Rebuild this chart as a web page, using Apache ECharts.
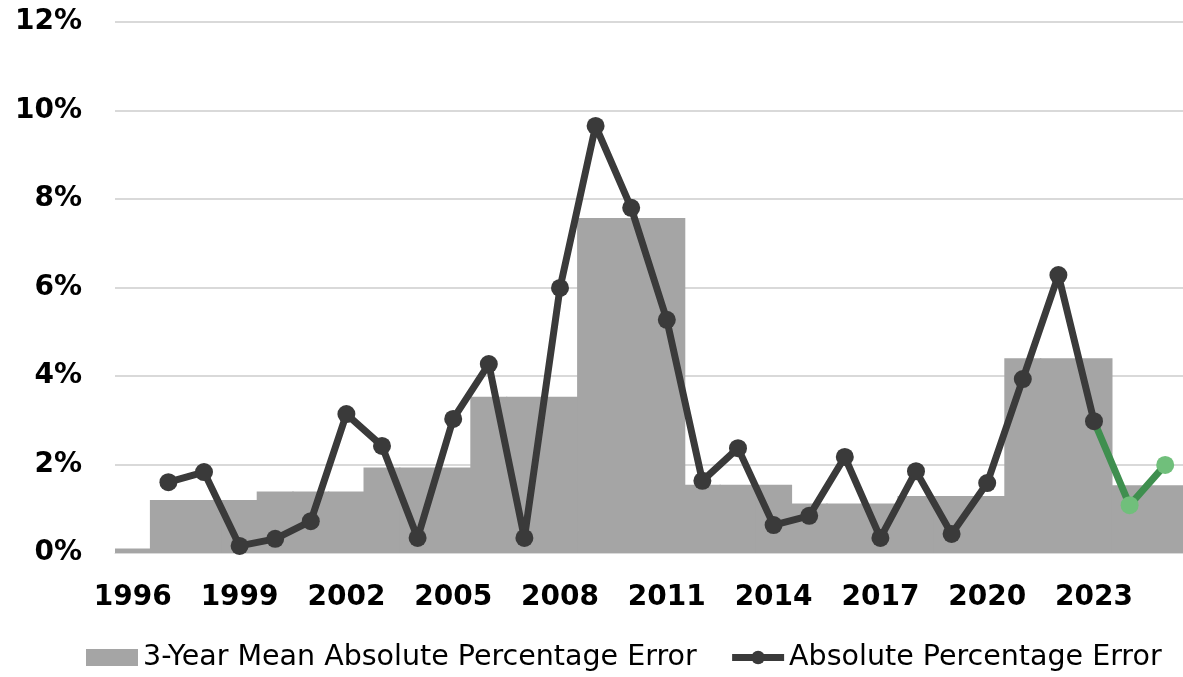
<!DOCTYPE html>
<html>
<head>
<meta charset="utf-8">
<script src="https://cdn.jsdelivr.net/npm/echarts@6/dist/echarts.min.js"></script>
<style>
  html, body { margin: 0; padding: 0; background: #ffffff; }
  #chart { width: 1183px; height: 677px; }
</style>
</head>
<body>
<div id="chart"></div>
<script>
// Forecast years
const years = ['1996','1997','1998','1999','2000','2001','2002','2003','2004','2005',
  '2006','2007','2008','2009','2010','2011','2012','2013','2014','2015',
  '2016','2017','2018','2019','2020','2021','2022','2023','2024','2025'];

// 3-year mean absolute percentage error (%), one value per year
const meanError = [0.10, 1.20, 1.20, 1.20, 1.39, 1.39, 1.39, 1.93, 1.93, 1.93,
  3.53, 3.53, 3.53, 7.57, 7.57, 7.57, 1.54, 1.54, 1.54, 1.12,
  1.12, 1.12, 1.29, 1.29, 1.29, 4.40, 4.40, 4.40, 1.53, 1.53];

// Absolute percentage error (%) through 2023
const absError = [null, 1.60, 1.83, 0.16, 0.32, 0.72, 3.14, 2.42, 0.34, 3.03,
  4.27, 0.34, 5.99, 9.65, 7.80, 5.27, 1.63, 2.37, 0.63, 0.84,
  2.17, 0.34, 1.85, 0.43, 1.58, 3.93, 6.28, 2.98, null, null];

// Latest years, continuing from 2023
const recentError = [null, null, null, null, null, null, null, null, null, null,
  null, null, null, null, null, null, null, null, null, null,
  null, null, null, null, null, null, null, 2.98, 1.08, 1.99];

const yTicks = [0, 2, 4, 6, 8, 10, 12];

const chart = echarts.init(document.getElementById('chart'), null, { renderer: 'canvas' });

const axisFont = { fontFamily: 'DejaVu Sans', fontWeight: 'bold', fontSize: 28, color: '#000000' };

chart.setOption({
  animation: false,
  backgroundColor: '#ffffff',
  grid: { left: 115, right: 0, top: 22, bottom: 124, containLabel: false },
  legend: {
    bottom: 0,
    left: 81,
    itemGap: 32,
    itemWidth: 52,
    itemHeight: 17,
    lineStyle: { width: 7 },
    textStyle: { fontFamily: 'DejaVu Sans', fontSize: 28.5, color: '#000000' },
    data: [
      { name: '3-Year Mean Absolute Percentage Error', icon: 'rect' },
      { name: 'Absolute Percentage Error' }
    ]
  },
  xAxis: {
    type: 'category',
    data: years,
    boundaryGap: true,
    axisLine: { show: true, lineStyle: { color: '#d9d9d9', width: 1 } },
    axisTick: { show: false },
    axisLabel: Object.assign({ interval: 2, margin: 31 }, axisFont),
    splitLine: { show: false }
  },
  yAxis: {
    type: 'value',
    min: yTicks[0],
    max: yTicks[yTicks.length - 1],
    interval: 2,
    axisLine: { show: false },
    axisTick: { show: false },
    axisLabel: Object.assign({ margin: 33, formatter: v => v + '%' }, axisFont),
    splitLine: { lineStyle: { color: '#d9d9d9', width: 2 } }
  },
  series: [
    {
      // slightly wider than a category so neighbouring years join without seams
      name: '3-Year Mean Absolute Percentage Error',
      type: 'bar',
      data: meanError,
      barWidth: 37,
      itemStyle: { color: '#a5a5a5' },
      z: 1
    },
    {
      name: 'Absolute Percentage Error (recent)',
      type: 'line',
      data: recentError.map((v, i) => (i === 27 ? { value: v, symbolSize: 0 } : v)),
      symbol: 'circle',
      symbolSize: 18,
      lineStyle: { color: '#3f8f4f', width: 7 },
      itemStyle: { color: '#70bf7b' },
      connectNulls: false,
      z: 3
    },
    {
      name: 'Absolute Percentage Error',
      type: 'line',
      data: absError,
      symbol: 'circle',
      symbolSize: 18,
      lineStyle: { color: '#3a3a3a', width: 7 },
      itemStyle: { color: '#3a3a3a' },
      connectNulls: false,
      z: 4
    }
  ]
});
</script>
</body>
</html>
